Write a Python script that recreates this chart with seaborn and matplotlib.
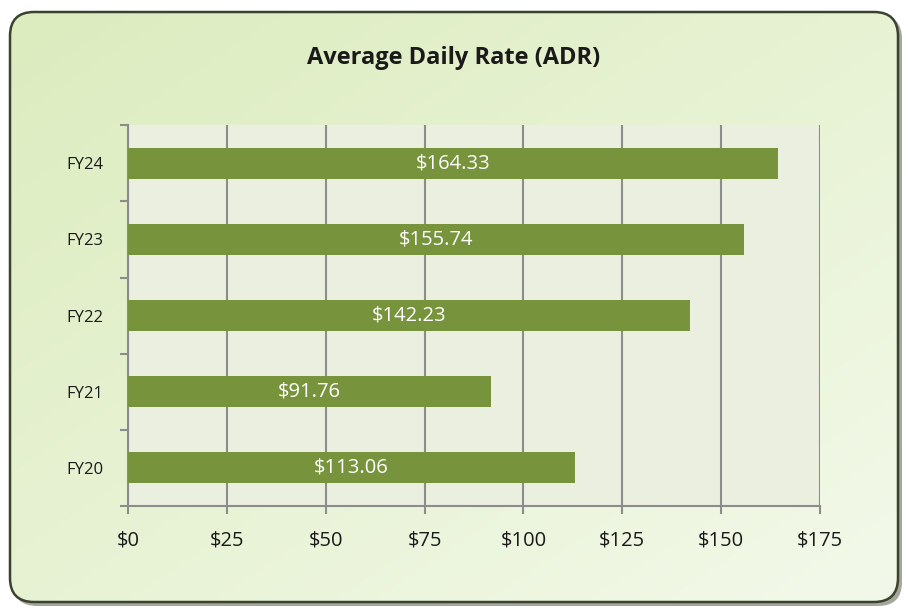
import numpy as np
import pandas as pd
import matplotlib
matplotlib.use("Agg")
import matplotlib.pyplot as plt
import seaborn as sns
from matplotlib.patches import FancyBboxPatch
from matplotlib.ticker import FixedLocator

years = ["FY24", "FY23", "FY22", "FY21", "FY20"]
adr = [164.33, 155.74, 142.23, 91.76, 113.06]
x_ticks = [0, 25, 50, 75, 100, 125, 150, 175]
title = "Average Daily Rate (ADR)"

df = pd.DataFrame({"year": years, "adr": adr})

sns.set_style("white")
plt.rcParams["font.family"] = ["Open Sans", "DejaVu Sans"]

fig = plt.figure(figsize=(9.08, 6.11), dpi=100)

# background card with gradient and shadow
bg = fig.add_axes([0, 0, 1, 1], zorder=0)
bg.set_xlim(0, 908)
bg.set_ylim(611, 0)
bg.axis("off")
shadow = FancyBboxPatch((13, 15), 889, 591, boxstyle="round,pad=0,rounding_size=24",
                        facecolor="#5a6148", edgecolor="none", alpha=0.55)
bg.add_patch(shadow)
card = FancyBboxPatch((10, 12), 888, 590, boxstyle="round,pad=0,rounding_size=24",
                      facecolor="none", edgecolor="#3b4230", linewidth=1.8)
bg.add_patch(card)
gx, gy = np.meshgrid(np.linspace(0, 1, 200), np.linspace(0, 1, 200))
g = (gx + gy) / 2
c0 = np.array([0xDC, 0xEC, 0xBE]) / 255
c1 = np.array([0xF3, 0xF9, 0xEA]) / 255
img = c0 + (c1 - c0) * g[..., None]
im = bg.imshow(img, extent=(10, 898, 602, 12), aspect="auto", zorder=1)
im.set_clip_path(card)
card.set_zorder(2)

ax = fig.add_axes([0.141, 0.172, 0.762, 0.623], zorder=1)
ax.set_facecolor("#EBEFDF")
sns.barplot(data=df, x="adr", y="year", order=years, color="#77933C",
            width=0.41, saturation=1, linewidth=0, ax=ax, zorder=3)

ax.set_xlim(0, 175)
ax.set_ylim(4.5, -0.5)
ax.set_xticks(x_ticks)
ax.set_xticklabels([f"${v}" for v in x_ticks], fontsize=14.5, color="#1a1a1a")
ax.tick_params(axis="x", bottom=True, direction="out", length=6, width=1.5,
               color="#8c8c8c", pad=12)
ax.tick_params(axis="y", which="major", left=True, length=0, pad=18,
               labelsize=12, labelcolor="#1a1a1a")
ax.yaxis.set_minor_locator(FixedLocator(np.arange(-0.5, 5, 1)))
ax.tick_params(axis="y", which="minor", left=True, direction="out", length=6,
               width=1.5, color="#8c8c8c")
ax.grid(axis="x", color="#8c8c8c", linewidth=1.5, zorder=1)
ax.set_axisbelow(True)
ax.set_xlabel("")
ax.set_ylabel("")
for side in ["top", "right"]:
    ax.spines[side].set_visible(False)
for side in ["left", "bottom"]:
    ax.spines[side].set_color("#8c8c8c")
    ax.spines[side].set_linewidth(1.5)

for i, v in enumerate(adr):
    ax.text(v / 2, i, f"${v:.2f}", ha="center", va="center", color="white",
            fontsize=14.5, zorder=4)

fig.text(0.5, 0.905, title, ha="center", va="center", fontsize=17,
         fontweight="bold", color="#1a1a1a")

fig.savefig("out.png", dpi=100)
